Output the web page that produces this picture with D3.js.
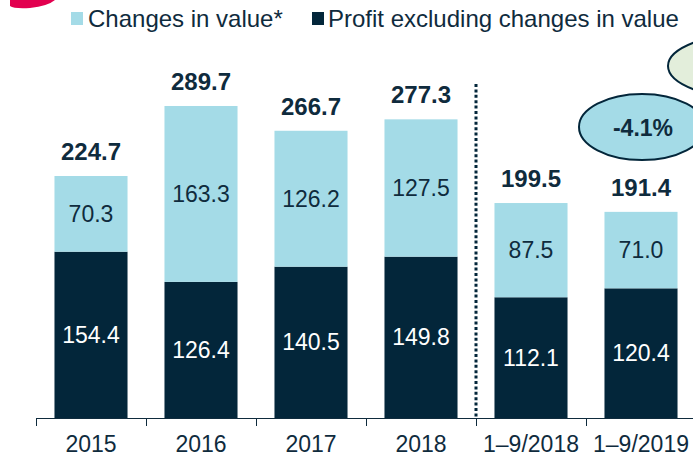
<!DOCTYPE html>
<html>
<head>
<meta charset="utf-8">
<script src="https://cdn.jsdelivr.net/npm/d3@7"></script>
<style>
  body { margin: 0; background: #fff; font-family: "Liberation Sans", Arial, sans-serif; }
  svg text { fill: #0f2b3d; }
</style>
</head>
<body>
<script>
// data
var categories = ["2015", "2016", "2017", "2018", "1\u20139/2018", "1\u20139/2019"];
var profitExcl = [154.4, 126.4, 140.5, 149.8, 112.1, 120.4];
var changesInValue = [70.3, 163.3, 126.2, 127.5, 87.5, 71.0];
var totals = [224.7, 289.7, 266.7, 277.3, 199.5, 191.4];
var legendLabels = ["Changes in value*", "Profit excluding changes in value"];
var changeLabel = "-4.1%";

var width = 693, height = 457;
var lightBlue = "#a4dbe7", navy = "#03263a", ink = "#0f2b3d";

var svg = d3.select("body").append("svg")
    .attr("width", width)
    .attr("height", height);

var x = d3.scaleBand()
    .domain(categories)
    .range([36, 36 + 110 * categories.length])
    .paddingInner(0.336)
    .paddingOuter(0.168);

var y = d3.scaleLinear()
    .domain([0, 300])
    .range([418, 418 - 300 * 1.077]);

// decorative shapes at the edges
svg.append("path")
    .attr("d", "M10,0 L10,6 Q14,9 30,8 Q48,6 55,0 Z")
    .attr("fill", "#e2004f");

svg.append("ellipse")
    .attr("cx", 762).attr("cy", 66)
    .attr("rx", 94).attr("ry", 34)
    .attr("fill", "#e3eedb")
    .attr("stroke", navy).attr("stroke-width", 2);

// stacked bars
var g = svg.append("g");
categories.forEach(function(c, i) {
  var x0 = x(c), bw = x.bandwidth();
  g.append("rect")
    .attr("x", x0).attr("width", bw)
    .attr("y", y(profitExcl[i])).attr("height", y(0) - y(profitExcl[i]))
    .attr("fill", navy);
  g.append("rect")
    .attr("x", x0).attr("width", bw)
    .attr("y", y(profitExcl[i] + changesInValue[i]))
    .attr("height", y(profitExcl[i]) - y(profitExcl[i] + changesInValue[i]))
    .attr("fill", lightBlue);

  g.append("text")
    .attr("x", x0 + bw / 2)
    .attr("y", (y(0) + y(profitExcl[i])) / 2 + 8)
    .attr("text-anchor", "middle")
    .style("font-size", "23px")
    .style("fill", "#fff")
    .text(profitExcl[i].toFixed(1));
  g.append("text")
    .attr("x", x0 + bw / 2)
    .attr("y", (y(profitExcl[i]) + y(profitExcl[i] + changesInValue[i])) / 2 + 8)
    .attr("text-anchor", "middle")
    .style("font-size", "23px")
    .text(changesInValue[i].toFixed(1));
  g.append("text")
    .attr("x", x0 + bw / 2)
    .attr("y", y(totals[i]) - 16)
    .attr("text-anchor", "middle")
    .style("font-size", "24px")
    .style("font-weight", "bold")
    .text(totals[i].toFixed(1));
});

// x axis
var axis = svg.append("g")
    .attr("transform", "translate(0,418)")
    .call(d3.axisBottom(x).tickSize(0).tickPadding(18));
axis.select(".domain").attr("stroke", ink).attr("d", "M36,0.5H700");
axis.selectAll("text")
    .style("font-size", "23px")
    .style("font-family", "'Liberation Sans', Arial, sans-serif")
    .style("fill", ink);
axis.selectAll(".sep")
    .data(d3.range(categories.length + 1))
    .enter().append("line")
    .attr("x1", function(d) { return 36.5 + x.step() * d; })
    .attr("x2", function(d) { return 36.5 + x.step() * d; })
    .attr("y1", 0).attr("y2", 8)
    .attr("stroke", ink);

// dotted divider between years and periods
svg.append("line")
    .attr("x1", 36 + x.step() * 4).attr("x2", 36 + x.step() * 4)
    .attr("y1", 84).attr("y2", 418)
    .attr("stroke", navy)
    .attr("stroke-width", 3)
    .attr("stroke-dasharray", "3,2.4");

// change ellipse
svg.append("ellipse")
    .attr("cx", 642).attr("cy", 127)
    .attr("rx", 63).attr("ry", 33)
    .attr("fill", lightBlue)
    .attr("stroke", navy).attr("stroke-width", 2);
svg.append("text")
    .attr("x", 643).attr("y", 136)
    .attr("text-anchor", "middle")
    .style("font-size", "23px")
    .style("font-weight", "bold")
    .text(changeLabel);

// legend
var legend = [[71, 88, lightBlue], [312, 328, navy]];
legend.forEach(function(l, i) {
  svg.append("rect")
    .attr("x", l[0]).attr("y", 12)
    .attr("width", 12).attr("height", 13)
    .attr("fill", l[2]);
  svg.append("text")
    .attr("x", l[1]).attr("y", 27)
    .style("font-size", "24px")
    .text(legendLabels[i]);
});
</script>
</body>
</html>
